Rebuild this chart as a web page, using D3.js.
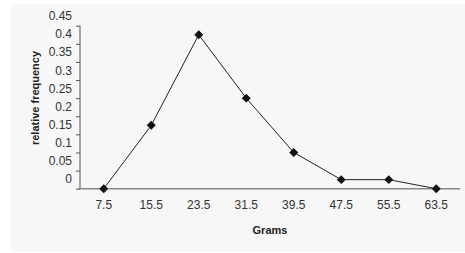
<!DOCTYPE html>
<html>
<head>
<meta charset="utf-8">
<script src="https://cdn.jsdelivr.net/npm/d3@7"></script>
<style>
  body { margin: 0; background: #fff; }
  text { font-family: "Liberation Sans", Arial, sans-serif; }
</style>
</head>
<body>
<div id="chart"></div>
<script>
// data
var grams = ["7.5", "15.5", "23.5", "31.5", "39.5", "47.5", "55.5", "63.5"];
var relFreq = [0, 0.175, 0.425, 0.25, 0.1, 0.025, 0.025, 0];
var yTicks = [0, 0.05, 0.1, 0.15, 0.2, 0.25, 0.3, 0.35, 0.4, 0.45];

var width = 465, height = 253;

var svg = d3.select("#chart")
    .append("svg")
    .attr("width", width)
    .attr("height", height);

// light gray panel
svg.append("rect")
    .attr("x", 11)
    .attr("y", 4)
    .attr("width", width - 11)
    .attr("height", 248)
    .attr("fill", "#f7f7f7");

var x = d3.scaleBand()
    .domain(grams)
    .range([80, 460]);

var y = d3.scaleLinear()
    .domain([0, 0.45])
    .range([188.7, 25.7]);

// y axis: ticks on the axis, labels sit a bit above their ticks (like the original)
var yAxis = svg.append("g")
    .attr("transform", "translate(80,0)")
    .call(d3.axisLeft(y).tickValues(yTicks).tickSize(4).tickPadding(4)
        .tickFormat(function (d) { return d3.format("~g")(d); }));
yAxis.select(".domain").attr("stroke", "#555").attr("d", "M0," + y(0.45) + "V" + y(0));
yAxis.selectAll(".tick line").attr("stroke", "#555");
yAxis.selectAll(".tick text")
    .attr("dy", "-0.5em")
    .style("font-size", "12px")
    .attr("fill", "#333");

// x axis: plain line, no tick marks
var xAxis = svg.append("g")
    .attr("transform", "translate(0," + y(0) + ")")
    .call(d3.axisBottom(x).tickSize(0).tickPadding(12));
xAxis.select(".domain").attr("stroke", "#888").attr("stroke-width", 1.5).attr("d", "M78,0H460");
xAxis.selectAll(".tick text")
    .style("font-size", "12px")
    .attr("fill", "#333");

// axis titles
svg.append("text")
    .attr("x", 270)
    .attr("y", 234)
    .attr("text-anchor", "middle")
    .style("font-size", "11px")
    .style("font-weight", "bold")
    .attr("fill", "#222")
    .text("Grams");

svg.append("text")
    .attr("transform", "translate(39,98) rotate(-90)")
    .attr("text-anchor", "middle")
    .style("font-size", "11px")
    .style("font-weight", "bold")
    .attr("fill", "#222")
    .text("relative frequency");

// line
var line = d3.line()
    .x(function (d, i) { return x(grams[i]) + x.bandwidth() / 2; })
    .y(function (d) { return y(d); });

svg.append("path")
    .datum(relFreq)
    .attr("d", line)
    .attr("fill", "none")
    .attr("stroke", "#222")
    .attr("stroke-width", 1);

// diamond markers
var diamond = d3.symbol().type(d3.symbolSquare).size(40);
svg.selectAll(".marker")
    .data(relFreq)
    .enter()
    .append("path")
    .attr("class", "marker")
    .attr("d", diamond)
    .attr("transform", function (d, i) {
        return "translate(" + (x(grams[i]) + x.bandwidth() / 2) + "," + y(d) + ") rotate(45)";
    })
    .attr("fill", "#111");
</script>
</body>
</html>
